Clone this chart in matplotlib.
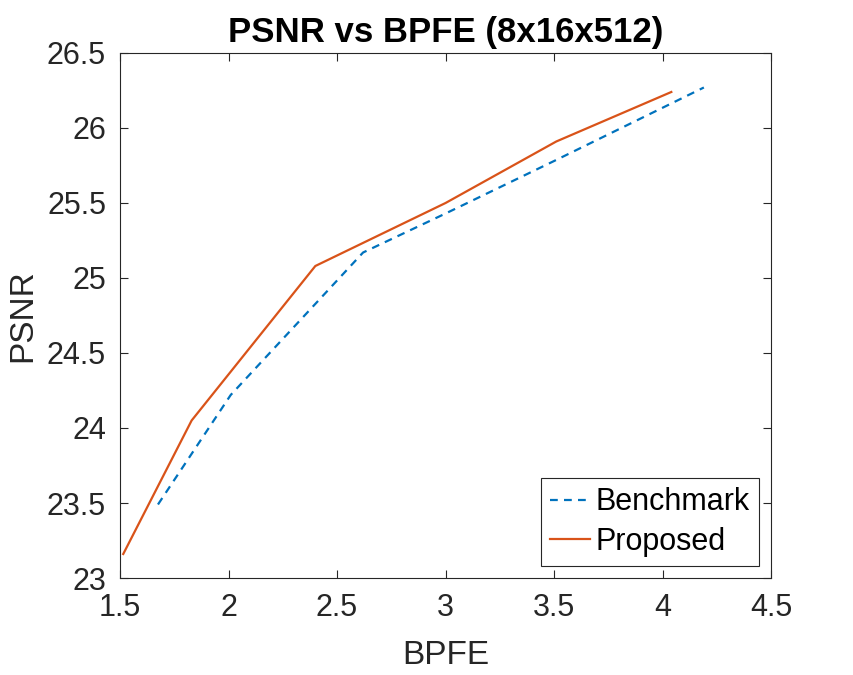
import matplotlib
matplotlib.use('Agg')
import matplotlib.pyplot as plt

plt.rcParams['font.family'] = ['Liberation Sans', 'DejaVu Sans']

# data
benchBpfe = [1.675, 2.01, 2.62, 3.0, 3.5, 4.19]
benchPsnr = [23.49, 24.22, 25.17, 25.43, 25.78, 26.27]
propBpfe = [1.515, 1.83, 2.40, 3.0, 3.51, 4.04]
propPsnr = [23.16, 24.05, 25.08, 25.50, 25.91, 26.24]

xTicks = [1.5, 2, 2.5, 3, 3.5, 4, 4.5]
yTicks = [23, 23.5, 24, 24.5, 25, 25.5, 26, 26.5]


def main():
    fig = plt.figure(figsize=(8.54, 6.75), dpi=100)
    ax = fig.add_axes([0.1405, 0.1437, 0.7625, 0.7778])

    ax.plot(benchBpfe, benchPsnr, color='#0072BD', lw=1.6, ls='--',
            dashes=(3.5, 2.8), label='Benchmark')
    ax.plot(propBpfe, propPsnr, color='#D95319', lw=1.6, label='Proposed')

    ax.set_xlim(1.5, 4.5)
    ax.set_ylim(23, 26.5)
    ax.set_xticks(xTicks)
    ax.set_xticklabels([f'{t:g}' for t in xTicks])
    ax.set_yticks(yTicks)
    ax.set_yticklabels([f'{t:g}' for t in yTicks])
    ax.tick_params(direction='in', top=True, right=True, labelsize=22,
                   length=6, width=0.8, colors='#262626')
    ax.tick_params(axis='x', pad=11)
    ax.tick_params(axis='y', pad=10)
    for s in ax.spines.values():
        s.set_color('#262626')
        s.set_linewidth(0.8)

    ax.set_xlabel('BPFE', fontsize=24, color='#262626', labelpad=12)
    ax.set_ylabel('PSNR', fontsize=24, color='#262626', labelpad=6)
    ax.set_title('PSNR vs BPFE (8x16x512)', fontsize=25, fontweight='bold', pad=8)

    leg = ax.legend(loc='lower right', fontsize=22, fancybox=False,
                    framealpha=1, edgecolor='#262626', handlelength=1.3,
                    borderaxespad=0.4, borderpad=0.3, labelspacing=0.3,
                    handletextpad=0.2)
    leg.get_frame().set_linewidth(0.8)

    fig.savefig('out.png', dpi=100)


if __name__ == '__main__':
    main()
